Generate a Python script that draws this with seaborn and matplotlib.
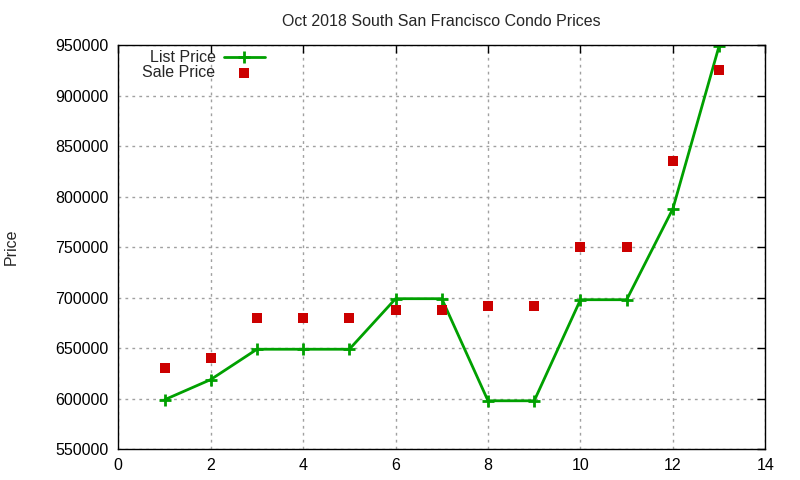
import matplotlib
matplotlib.use("Agg")
import matplotlib.pyplot as plt
import seaborn as sns
import pandas as pd

units = [1, 2, 3, 4, 5, 6, 7, 8, 9, 10, 11, 12, 13]
list_price = [599000, 619000, 649000, 649000, 649000, 699000, 699000, 598000, 598000, 698000, 698000, 788000, 949000]
sale_price = [630000, 640000, 680000, 680000, 680000, 688000, 688000, 692000, 692000, 750000, 750000, 835000, 925000]
x_ticks = [0, 2, 4, 6, 8, 10, 12, 14]
y_ticks = [550000, 600000, 650000, 700000, 750000, 800000, 850000, 900000, 950000]

df = pd.DataFrame({"n": units, "List Price": list_price, "Sale Price": sale_price})

sns.set_style("white")
plt.rcParams["font.family"] = ["Liberation Sans", "DejaVu Sans"]

fig = plt.figure(figsize=(8, 4.8), dpi=100)
ax = fig.add_axes([118.3/800, 1-449.3/480, (765.3-118.3)/800, (449.3-45)/480])

green = "#00a000"
red = "#cc0000"
sns.lineplot(data=df, x="n", y="List Price", ax=ax, color=green, linewidth=2,
             marker="+", markersize=9, markeredgewidth=2, markeredgecolor=green,
             markerfacecolor=green, label="List Price")
sns.scatterplot(data=df, x="n", y="Sale Price", ax=ax, color=red, marker="s",
                s=50, linewidth=0, label="Sale Price", zorder=3)

ax.set_xlim(0, 14)
ax.set_ylim(550000, 950000)
ax.set_xticks(x_ticks)
ax.set_yticks(y_ticks)
ax.set_yticklabels([str(v) for v in y_ticks])
ax.tick_params(direction="in", top=True, right=True, length=6, width=1, labelsize=11.5, colors="black")
ax.tick_params(axis="y", pad=7)
ax.tick_params(axis="x", pad=6)
ax.grid(True, color="#a0a0a0", linestyle=(0, (2, 3)), linewidth=1)
for s in ax.spines.values():
    s.set_color("black")
    s.set_linewidth(1)
ax.set_xlabel("")
ax.set_ylabel("Price", fontsize=11.5, labelpad=26)
ax.set_title("Oct 2018 South San Francisco Condo Prices", fontsize=11.5, pad=14)

leg = ax.legend(loc="upper left", bbox_to_anchor=(0.02, 1.015), frameon=False, markerfirst=False,
                fontsize=11.5, handlelength=2.6, handletextpad=0.5, labelspacing=0.0, borderaxespad=0.3)

fig.savefig("out.png", dpi=100)
